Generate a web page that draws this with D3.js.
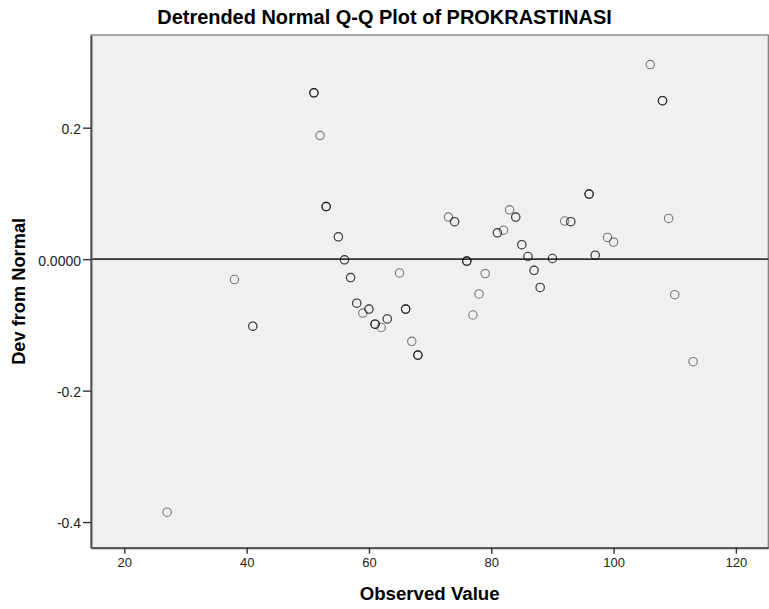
<!DOCTYPE html>
<html>
<head>
<meta charset="utf-8">
<script src="https://cdn.jsdelivr.net/npm/d3@7"></script>
<style>
  html, body { margin: 0; padding: 0; background: #fff; }
  svg { display: block; font-family: Arial, "Liberation Sans", sans-serif; }
</style>
</head>
<body>
<svg id="chart" width="769" height="609"></svg>
<script>
// ---- data ----
const title = "Detrended Normal Q-Q Plot of PROKRASTINASI";
const xLabel = "Observed Value";
const yLabel = "Dev from Normal";
const observed = [27, 38, 41, 51, 52, 53, 55, 56, 57, 58, 59, 60, 61, 62, 63, 65, 66, 67, 68,
                  73, 74, 76, 77, 78, 79, 81, 82, 83, 84, 85, 86, 87, 88, 90, 92, 93, 96, 97,
                  99, 100, 106, 108, 109, 110, 113];
const deviation = [-0.385, -0.031, -0.102, 0.253, 0.188, 0.080, 0.034, -0.001, -0.028, -0.067, -0.082, -0.076, -0.099, -0.104, -0.091, -0.021, -0.076, -0.125, -0.146,
                   0.064, 0.057, -0.003, -0.085, -0.053, -0.022, 0.040, 0.044, 0.075, 0.064, 0.022, 0.004, -0.017, -0.043, 0.001, 0.058, 0.057, 0.099, 0.006,
                   0.033, 0.026, 0.296, 0.241, 0.062, -0.054, -0.156];
const ties = [1, 1, 2, 3, 1, 3, 2, 2, 2, 2, 1, 2, 3, 1, 2, 1, 3, 1, 3,
              1, 2, 3, 1, 1, 1, 2, 1, 1, 2, 2, 2, 2, 2, 2, 1, 2, 3, 2,
              1, 1, 1, 3, 1, 1, 1];
const xTicks = [20, 40, 60, 80, 100, 120];
const yTicks = [0.2, 0.0, -0.2, -0.4];
const yTickLabels = ["0.2", "0.0000", "-0.2", "-0.4"];
const xDomain = [14.55, 125.3];
const yDomain = [0.341, -0.439];

// ---- layout ----
const plotL = 91, plotR = 768.3, plotT = 35, plotB = 547.7;
const svg = d3.select("#chart");

const x = d3.scaleLinear().domain(xDomain).range([plotL, plotR]);
const y = d3.scaleLinear().domain(yDomain).range([plotT, plotB]);

function fitText(sel, base, target) {
  const w = sel.node().getComputedTextLength();
  sel.style("font-size", (base * target / w).toFixed(2) + "px");
}

// plot background
svg.append("rect")
  .attr("x", plotL).attr("y", plotT)
  .attr("width", plotR - plotL).attr("height", plotB - plotT)
  .attr("fill", "#f0f0f0")
  .attr("stroke", "#777").attr("stroke-width", 1.2);

// zero reference line
svg.append("line")
  .attr("x1", plotL).attr("x2", plotR)
  .attr("y1", y(0)).attr("y2", y(0))
  .attr("stroke", "#333").attr("stroke-width", 1.6);

// points (ties drawn repeatedly so they darken)
const pts = [];
observed.forEach((v, i) => { for (let k = 0; k < ties[i]; k++) pts.push({x: v, y: deviation[i]}); });
svg.append("g").selectAll("circle").data(pts).join("circle")
  .attr("cx", d => x(d.x)).attr("cy", d => y(d.y)).attr("r", 4.2)
  .attr("fill", "none")
  .attr("stroke", "#000").attr("stroke-opacity", 0.5).attr("stroke-width", 1.1);

// axes
const xAxis = d3.axisBottom(x).tickValues(xTicks).tickSize(6).tickSizeOuter(0).tickFormat(d3.format("d"));
const gx = svg.append("g").attr("transform", `translate(0,${plotB})`).call(xAxis);
const yAxis = d3.axisLeft(y).tickValues(yTicks).tickSize(8).tickSizeOuter(0)
  .tickFormat((d, i) => yTickLabels[i]);
const gy = svg.append("g").attr("transform", `translate(${plotL},0)`).call(yAxis);

[gx, gy].forEach(g => {
  g.select(".domain").attr("stroke", "#555").attr("stroke-width", 2);
  g.selectAll(".tick line").attr("stroke", "#333").attr("stroke-width", 1.4);
  g.selectAll(".tick text").attr("fill", "#222")
    .style("font-family", "Arial, 'Liberation Sans', sans-serif");
});
gx.selectAll(".tick text").style("font-size", "13px").attr("y", 9).attr("dy", "0.8em");
gy.selectAll(".tick text").style("font-size", "14px").attr("x", -10).attr("dy", "0.42em");

// title
const t = svg.append("text")
  .attr("x", 384.5).attr("y", 24)
  .attr("text-anchor", "middle")
  .style("font-weight", "bold").style("font-size", "16px").attr("fill", "#000")
  .text(title);
fitText(t, 16, 455);

// axis titles
const xl = svg.append("text")
  .attr("x", (plotL + plotR) / 2).attr("y", 600)
  .attr("text-anchor", "middle")
  .style("font-weight", "bold").style("font-size", "16px").attr("fill", "#000")
  .text(xLabel);
fitText(xl, 16, 140);

const yl = svg.append("text")
  .attr("transform", `translate(24.5,${(plotT + plotB) / 2}) rotate(-90)`)
  .attr("text-anchor", "middle")
  .style("font-weight", "bold").style("font-size", "16px").attr("fill", "#000")
  .text(yLabel);
fitText(yl, 16, 147);
</script>
</body>
</html>
